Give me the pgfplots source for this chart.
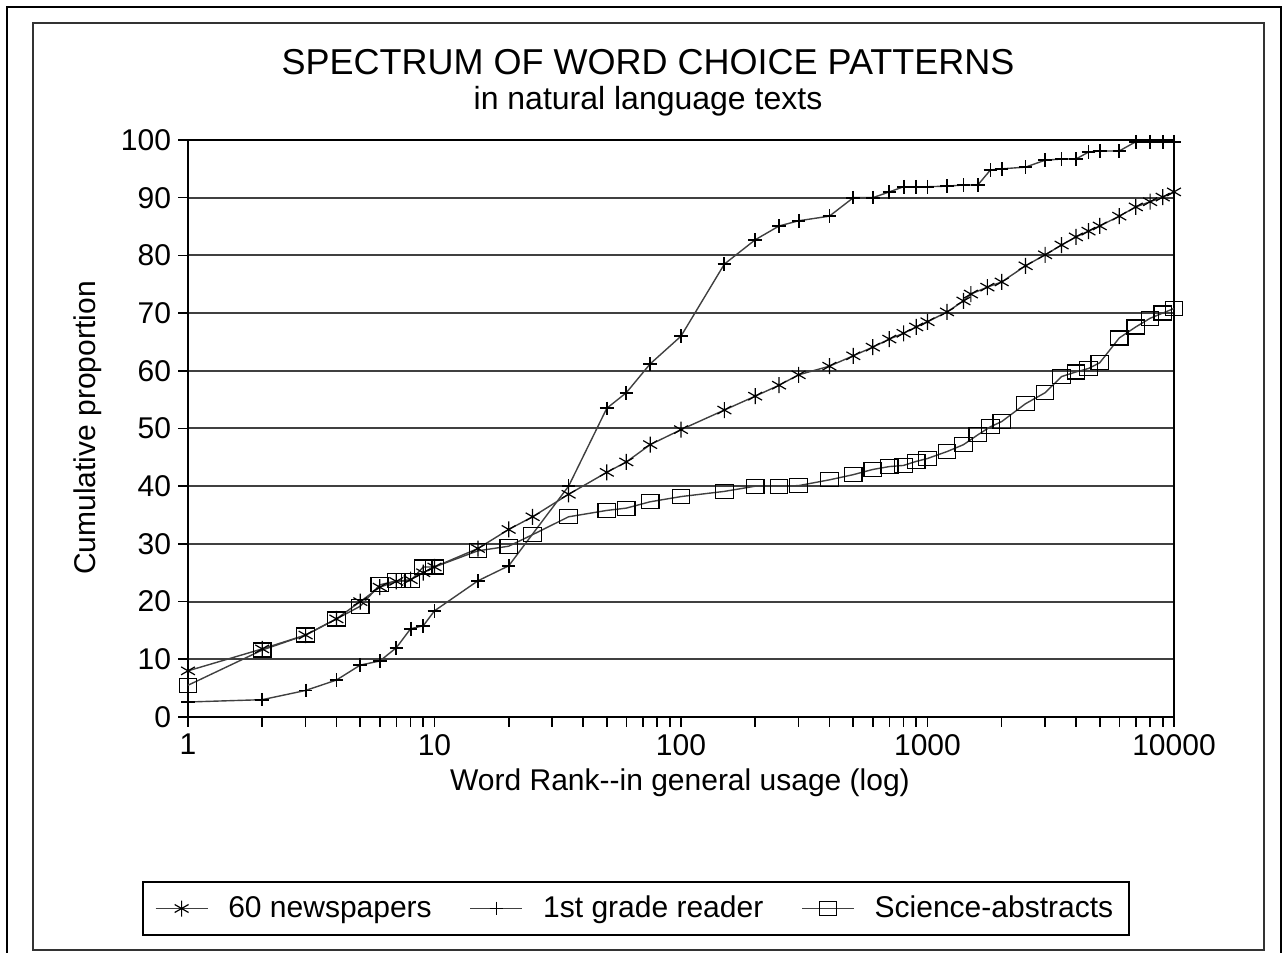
\documentclass[border=0pt]{standalone}
\usepackage{fontspec}
\setmainfont{Liberation Sans}
\usepackage{pgfplots}
\pgfplotsset{compat=1.18}
\begin{document}
\begin{tikzpicture}
\useasboundingbox (0,0) rectangle (643pt,476.5pt);
\draw[line width=1pt] (3.5pt,-5pt) rectangle (640.5pt,473pt);
\draw[line width=1pt, black!80] (16.5pt,1.5pt) rectangle (632pt,465pt);
\node[anchor=base, font=\fontsize{18}{20}\selectfont] at (324pt,439pt) {SPECTRUM OF WORD CHOICE PATTERNS};
\node[anchor=base, font=\fontsize{16}{18}\selectfont] at (324pt,421.5pt) {in natural language texts};
\begin{axis}[
  at={(94pt,118pt)}, anchor=south west,
  scale only axis, width=493pt, height=288.5pt,
  xmode=log, xmin=1, xmax=10000, ymin=0, ymax=100,
  xtick={1,10,100,1000,10000}, xticklabels={1,10,100,1000,10000},
  ytick={0,10,...,100},
  tick align=outside, xtick pos=bottom, ytick pos=left,
  major tick length=5pt, minor tick length=5pt,
  tick style={line width=0.8pt, black},
  axis line style={line width=1pt, black},
  ymajorgrids, major grid style={line width=1pt, black!75},
  ticklabel style={font=\fontsize{15}{18}\selectfont},
  /pgf/number format/assume math mode=true,
  label style={font=\fontsize{15}{18}\selectfont},
  xlabel={Word Rank-{}-in general usage (log)},
  ylabel={Cumulative proportion},
  xlabel style={at={(axis description cs:0.499,-0.1144)}, anchor=center},
  ylabel style={at={(axis description cs:-0.1015,0.5009)}, anchor=center},
  legend columns=3,
  legend style={at={(0.4544,-0.3319)}, anchor=center, draw=black, line width=1pt,
    font=\fontsize{15}{18}\selectfont, inner xsep=6pt, inner ysep=5pt,
    /tikz/every odd column/.append style={column sep=8pt},
    /tikz/every even column/.append style={column sep=17pt}},
  legend image code/.code={\draw[mark repeat=2,mark phase=2] plot coordinates {(0pt,0pt)(13pt,0pt)(26pt,0pt)};},
  clip=false,
]
\addplot[black!75, line width=0.7pt, mark=asterisk, mark size=4pt, mark options={black, line width=0.6pt}] coordinates {
(1,8.0)(2,11.8)(3,14.2)(4,17.0)(5,20.0)(6,22.5)(7,23.5)(8,23.8)(9,25.0)(10,26.0)
(15,29.2)(20,32.5)(25,34.7)(35,38.6)(50,42.4)(60,44.2)(75,47.2)(100,49.8)
(150,53.2)(200,55.6)(250,57.5)(300,59.3)(400,60.8)(500,62.6)(600,64.1)(700,65.5)
(800,66.5)(900,67.6)(1000,68.5)(1200,70.2)(1400,72.1)(1500,73.3)(1750,74.5)(2000,75.4)
(2500,78.2)(3000,80.1)(3500,81.8)(4000,83.2)(4500,84.2)(5000,85.1)(6000,86.8)
(7000,88.4)(8000,89.3)(9000,90.1)(10000,91.0)};
\addlegendentry{60 newspapers}
\addplot[black!75, line width=0.7pt, mark=+, mark size=3.4pt, mark options={black, line width=0.9pt}] coordinates {
(1,2.6)(2,3.0)(3,4.6)(4,6.4)(5,9.0)(6,9.7)(7,12.0)(8,15.3)(9,15.8)(10,18.4)
(15,23.6)(20,26.2)(35,40.0)(50,53.5)(60,56.2)(75,61.2)(100,66.0)(150,78.5)
(200,82.7)(250,85.1)(300,86.0)(400,86.8)(500,90.0)(600,90.0)(700,91.0)(800,91.9)
(900,91.9)(1000,91.9)(1200,92.0)(1400,92.2)(1600,92.2)(1800,94.8)(2000,95.0)
(2500,95.3)(3000,96.5)(3500,96.7)(4000,96.7)(4500,97.9)(5000,98.1)(6000,98.1)
(7000,99.7)(8000,99.7)(9000,99.7)(10000,99.7)};
\addlegendentry{1st grade reader}
\addplot[black!75, line width=0.7pt, mark=square, mark size=3.5pt, mark options={black, line width=0.6pt, xscale=1.25}] coordinates {
(1,5.5)(2,11.6)(3,14.2)(4,17.0)(5,19.2)(6,22.9)(7,23.6)(8,23.6)(9,26.0)(10,26.0)
(15,28.8)(20,29.6)(25,31.6)(35,34.7)(50,35.8)(60,36.2)(75,37.3)(100,38.2)
(150,39.1)(200,40.0)(250,40.0)(300,40.1)(400,41.1)(500,42.0)(600,42.9)(700,43.4)
(800,43.6)(900,44.3)(1000,44.8)(1200,46.0)(1400,47.2)(1600,48.9)(1800,50.3)(2000,51.2)
(2500,54.3)(3000,56.2)(3500,59.0)(4000,59.8)(4500,60.4)(5000,61.4)(6000,65.7)
(7000,67.6)(8000,69.1)(9000,70.0)(10000,70.8)};
\addlegendentry{Science-abstracts}
\end{axis}
\end{tikzpicture}
\end{document}
